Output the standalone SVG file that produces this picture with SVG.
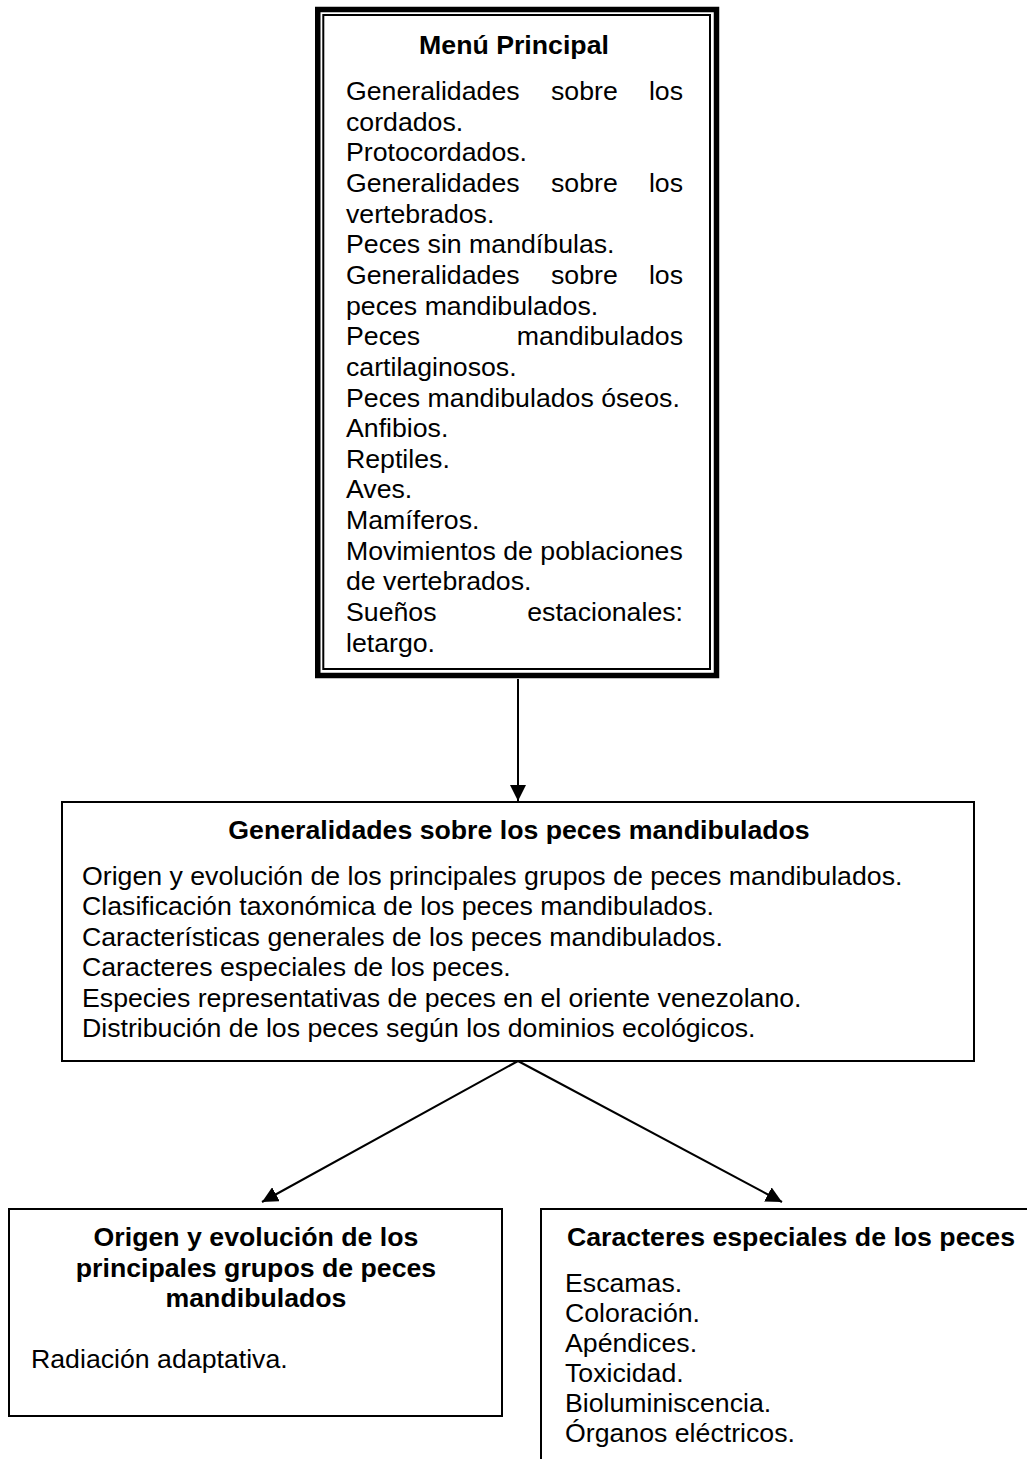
<svg xmlns="http://www.w3.org/2000/svg" width="1027" height="1459" viewBox="0 0 1027 1459">
<style>
  .t { font-family: "Liberation Sans", Arial, sans-serif; font-size: 26.7px; fill: #000; }
  .b { font-weight: bold; }
  .box { fill: #fff; stroke: #000; stroke-width: 2; }
  .conn { stroke: #000; stroke-width: 2; fill: none; }
</style>
<defs>
  <marker id="arr" markerUnits="userSpaceOnUse" markerWidth="16" markerHeight="16" refX="16" refY="8" orient="auto" viewBox="0 0 16 16">
    <path d="M0,0 L16,8 L0,16 z" fill="#000"/>
  </marker>
</defs>
<rect x="0" y="0" width="1027" height="1459" fill="#fff"/>

<g id="menu-principal">
  <rect x="317.75" y="9.5" width="398.75" height="666" fill="#fff" stroke="#000" stroke-width="5.5"/>
  <rect x="323.3" y="15" width="386.7" height="654" fill="none" stroke="#000" stroke-width="2"/>
  <text class="t b" x="514" y="54" text-anchor="middle">Menú Principal</text>
  <text class="t" x="346" y="100">Generalidades</text>
  <text class="t" x="551" y="100">sobre</text>
  <text class="t" x="683" y="100" text-anchor="end">los</text>
  <text class="t" x="346" y="130.65">cordados.</text>
  <text class="t" x="346" y="161.3">Protocordados.</text>
  <text class="t" x="346" y="191.95">Generalidades</text>
  <text class="t" x="551" y="191.95">sobre</text>
  <text class="t" x="683" y="191.95" text-anchor="end">los</text>
  <text class="t" x="346" y="222.6">vertebrados.</text>
  <text class="t" x="346" y="253.25">Peces sin mandíbulas.</text>
  <text class="t" x="346" y="283.9">Generalidades</text>
  <text class="t" x="551" y="283.9">sobre</text>
  <text class="t" x="683" y="283.9" text-anchor="end">los</text>
  <text class="t" x="346" y="314.55">peces mandibulados.</text>
  <text class="t" x="346" y="345.2">Peces</text>
  <text class="t" x="683" y="345.2" text-anchor="end">mandibulados</text>
  <text class="t" x="346" y="375.85">cartilaginosos.</text>
  <text class="t" x="346" y="406.5">Peces mandibulados óseos.</text>
  <text class="t" x="346" y="437.15">Anfibios.</text>
  <text class="t" x="346" y="467.8">Reptiles.</text>
  <text class="t" x="346" y="498.45">Aves.</text>
  <text class="t" x="346" y="529.1">Mamíferos.</text>
  <text class="t" x="346" y="559.75">Movimientos de poblaciones</text>
  <text class="t" x="346" y="590.4">de vertebrados.</text>
  <text class="t" x="346" y="621.05">Sueños</text>
  <text class="t" x="683" y="621.05" text-anchor="end">estacionales:</text>
  <text class="t" x="346" y="651.7">letargo.</text>
</g>

<g id="generalidades-peces">
  <rect class="box" x="62" y="802" width="912" height="259"/>
  <text class="t b" x="519" y="839" text-anchor="middle">Generalidades sobre los peces mandibulados</text>
  <text class="t" x="82" y="885">Origen y evolución de los principales grupos de peces mandibulados.</text>
  <text class="t" x="82" y="915.4">Clasificación taxonómica de los peces mandibulados.</text>
  <text class="t" x="82" y="945.8">Características generales de los peces mandibulados.</text>
  <text class="t" x="82" y="976.2">Caracteres especiales de los peces.</text>
  <text class="t" x="82" y="1006.6">Especies representativas de peces en el oriente venezolano.</text>
  <text class="t" x="82" y="1037">Distribución de los peces según los dominios ecológicos.</text>
</g>

<g id="origen-evolucion">
  <rect class="box" x="9" y="1209" width="493" height="207"/>
  <text class="t b" x="256" y="1246" text-anchor="middle">Origen y evolución de los</text>
  <text class="t b" x="256" y="1276.5" text-anchor="middle">principales grupos de peces</text>
  <text class="t b" x="256" y="1307" text-anchor="middle">mandibulados</text>
  <text class="t" x="31" y="1368">Radiación adaptativa.</text>
</g>

<g id="caracteres-especiales">
  <rect class="box" x="541" y="1209" width="520" height="300"/>
  <text class="t b" x="567" y="1246">Caracteres especiales de los peces</text>
  <text class="t" x="565" y="1292">Escamas.</text>
  <text class="t" x="565" y="1322">Coloración.</text>
  <text class="t" x="565" y="1352">Apéndices.</text>
  <text class="t" x="565" y="1382">Toxicidad.</text>
  <text class="t" x="565" y="1412">Bioluminiscencia.</text>
  <text class="t" x="565" y="1442">Órganos eléctricos.</text>
</g>

<g id="connectors">
  <line class="conn" x1="518" y1="679" x2="518" y2="801" marker-end="url(#arr)"/>
  <line class="conn" x1="518" y1="1061" x2="262" y2="1202" marker-end="url(#arr)"/>
  <line class="conn" x1="518" y1="1061" x2="782" y2="1202" marker-end="url(#arr)"/>
</g>
</svg>
